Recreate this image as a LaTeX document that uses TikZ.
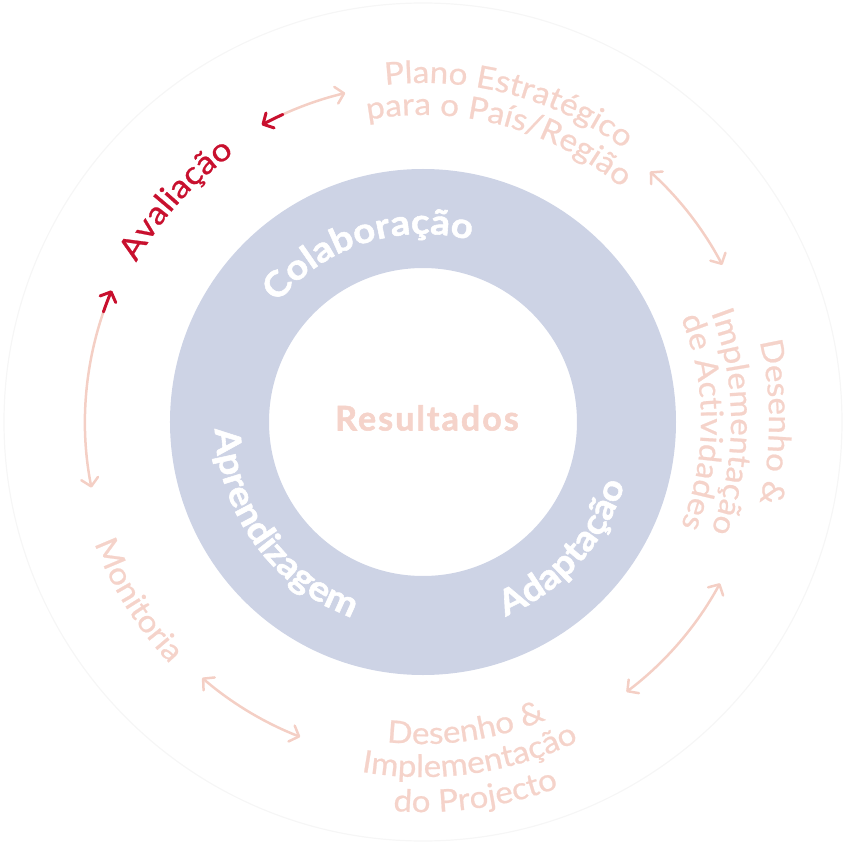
\documentclass[tikz,border=0pt]{standalone}
\usepackage{fontspec}
\setmainfont{Lato}
\newfontfamily\lbl[FakeStretch=1.07,FakeBold=0.7]{Lato}
\newfontfamily\lblred[FakeStretch=1.1,FakeBold=0.8]{Lato}
\newfontfamily\lblh[FakeStretch=1.1,FakeBold=1.6]{Lato}
\newfontfamily\lblr[LetterSpace=6,FakeBold=1.6]{Lato}
\usetikzlibrary{decorations.text,arrows.meta}
\definecolor{pinktxt}{HTML}{F5D3CA}
\definecolor{pinkarr}{HTML}{F4CFC5}
\definecolor{redtxt}{HTML}{C8102E}
\definecolor{ringc}{HTML}{CDD3E5}
\definecolor{faintc}{HTML}{F6F6F6}
\newcommand{\pinklbl}{\lbl\fontsize{31}{37}\selectfont\color{pinktxt}}
\newcommand{\redlbl}{\lblred\fontsize{32}{38}\selectfont\color{redtxt}}
\newcommand{\ringlbl}{\lblh\bfseries\fontsize{35}{42}\selectfont\color{white}}
\newcommand{\cwtext}[4]{%
  \path[decorate,decoration={text along path,text align=center,text={#3#4}}]
    ({#1+85}:#2) arc[start angle={#1+85},end angle={#1-85},radius=#2];}
\newcommand{\ccwtext}[4]{%
  \path[decorate,decoration={text along path,text align=center,text={#3#4}}]
    ({#1-85}:#2) arc[start angle={#1-85},end angle={#1+85},radius=#2];}
\tikzset{
  arr/.style={draw=pinkarr,line width=2.5pt,line cap=round},
  arrred/.style={draw=redtxt,line width=3pt,line cap=round},
  tipp/.tip={Straight Barb[length=8pt,width=17pt,round,color=pinkarr]},
  tipr/.tip={Straight Barb[length=8pt,width=17pt,round,color=redtxt]},
}
\begin{document}
\begin{tikzpicture}
\useasboundingbox (-423pt,-427pt) rectangle (426pt,422pt);
% faint outer circle
\draw[faintc,line width=1.2pt] (0,0) circle[radius=419pt];
% ring
\fill[ringc,even odd rule] (0,0) circle[radius=253pt] (0,0) circle[radius=154pt];
\node (res) at (4pt,4pt) {\lblr\bfseries\fontsize{34}{40}\selectfont\color{pinktxt}Resultados};
% ring texts
\cwtext{108}{188pt}{|\ringlbl|}{Colaboração}
\ccwtext{216}{208pt}{|\ringlbl|}{Aprendizagem}
\ccwtext{318}{211pt}{|\ringlbl|}{Adaptação}
% outer labels
\cwtext{75}{339pt}{|\pinklbl|}{Plano Estratégico}
\cwtext{75}{307pt}{|\pinklbl|}{para o País/Região}
\cwtext{0}{346pt}{|\pinklbl|}{Desenho {\&}}
\cwtext{0}{308pt}{|\pinklbl|}{Implementação}
\cwtext{0}{278pt}{|\pinklbl|}{de Actividades}
\ccwtext{278}{322pt}{|\pinklbl|}{Desenho {\&}}
\ccwtext{278}{355pt}{|\pinklbl|}{Implementação}
\ccwtext{278}{390pt}{|\pinklbl|}{do Projecto}
\ccwtext{212}{350pt}{|\pinklbl|}{Monitoria}
\cwtext{138}{328pt}{|\redlbl|}{Avaliação}
% arrows
\coordinate (a1) at (118.5:338pt);
\coordinate (a1m) at (115:338pt);
\coordinate (a2) at (47.8:338pt);
\coordinate (a3) at (-28.5:338pt);
\coordinate (a4) at (248.7:338pt);
\coordinate (a5) at (191.2:338pt);
\coordinate (a5m) at (161:338pt);
\draw[arr,-tipp] (a1m) arc[start angle=115,end angle=103.3,radius=338pt];
\draw[arrred,tipr-] (a1) arc[start angle=118.5,end angle=114.5,radius=338pt];
\draw[arr,tipp-tipp] (a2) arc[start angle=47.8,end angle=27.7,radius=338pt];
\draw[arr,tipp-tipp] (a3) arc[start angle=-28.5,end angle=-53,radius=338pt];
\draw[arr,tipp-tipp] (a4) arc[start angle=248.7,end angle=229.2,radius=338pt];
\draw[arr,tipp-] (a5) arc[start angle=191.2,end angle=160.5,radius=338pt];
\draw[arrred,-tipr] (a5m) arc[start angle=161,end angle=157.1,radius=338pt];
\end{tikzpicture}
\end{document}
